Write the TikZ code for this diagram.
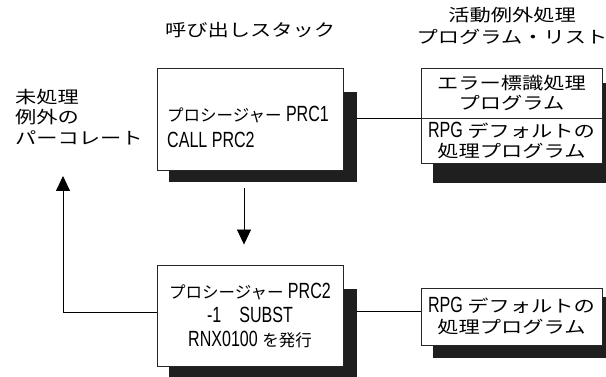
\documentclass[tikz,border=0pt]{standalone}
\usepackage{fontspec}
\setmainfont{Liberation Sans}[FakeStretch=0.73]
\newfontfamily\jpfont{Noto Sans CJK JP}
\newfontfamily\jpwide{Noto Sans CJK JP}[FakeStretch=1.25]
\newcommand{\jtxt}[1]{{\jpfont\fontsize{16.5}{24}\selectfont #1}}
\newcommand{\jwide}[1]{{\jpwide\fontsize{17}{21}\selectfont #1}}
\usetikzlibrary{arrows.meta,backgrounds}
\begin{document}
\begin{tikzpicture}[x=1pt,y=-1pt,
  box/.style={draw=black!85,line width=0.9pt,fill=white,inner sep=0pt,align=center},
  shade/.style={fill=black!88},
  link/.style={line width=0.8pt},
  arr/.style={line width=0.8pt,-{Triangle[width=14pt,length=15pt]}}]
\useasboundingbox (0,0) rectangle (606,377);

\node (stackTitle) at (250,30) {\jwide{呼び出しスタック}};
\node[align=center,inner sep=0pt,font=\fontsize{22}{22}\selectfont] (listTitle) at (512,26) {\jwide{活動例外処理}\\\jwide{プログラム・リスト}};
\node[anchor=west,align=left,inner sep=0pt,font=\fontsize{22}{20.5}\selectfont] (percText) at (15,117) {\jwide{未処理}\\\jwide{例外の}\\\jwide{パーコレート}};

\node[box,minimum width=186pt,minimum height=102pt] (prcA) at (250,119) {};
\node[anchor=west,align=left,inner sep=0pt,font=\fontsize{22}{26}\selectfont] (prcAText) at (167,127) {\jtxt{プロシージャー} PRC1\\CALL PRC2};
\node[box,minimum width=181pt,minimum height=50pt,font=\fontsize{22}{20}\selectfont] (errA) at (511.5,93) {\jwide{エラー標識処理}\\\jwide{プログラム}};
\node[box,minimum width=181pt,minimum height=45pt,font=\fontsize{22}{20}\selectfont] (rpgA) at (511.5,140.5) {RPG \jwide{デフォルトの}\\\jwide{処理プログラム}};

\node[box,minimum width=186pt,minimum height=101pt,font=\fontsize{22}{24}\selectfont] (prcB) at (250,315.5) {\jtxt{プロシージャー} PRC2\\-1\hspace{18pt}SUBST\\RNX0100 \jtxt{を発行}};
\node[box,minimum width=181pt,minimum height=57pt,font=\fontsize{22}{21}\selectfont] (rpgB) at (511.5,316.5) {RPG \jwide{デフォルトの}\\\jwide{処理プログラム}};

\coordinate (upEnd) at (63,176);
\draw[arr] ([xshift=-6pt,yshift=-18pt]prcA.south) -- ([xshift=-6pt,yshift=20pt]prcB.north);
\draw[arr] ([yshift=3.5pt]prcB.west) -| (upEnd);

\begin{scope}[on background layer]
\draw[link] (errA.south west) -- (errA.south west -| prcA.east);
\draw[link] ([yshift=5pt]rpgB.west) -- ([yshift=5pt]rpgB.west -| prcB.east);
\fill[shade] ([xshift=12pt,yshift=-24pt]prcA.north west) rectangle ([xshift=14pt,yshift=-12pt]prcA.south east);
\fill[shade] ([xshift=12pt,yshift=-24pt]prcB.north west) rectangle ([xshift=14pt,yshift=-11pt]prcB.south east);
\fill[shade] ([xshift=12pt,yshift=-15pt]errA.north west) rectangle ([xshift=14pt,yshift=-20pt]rpgA.south east);
\fill[shade] ([xshift=12pt,yshift=-9pt]rpgB.north west) rectangle ([xshift=14pt,yshift=-13pt]rpgB.south east);
\end{scope}
\end{tikzpicture}
\end{document}
